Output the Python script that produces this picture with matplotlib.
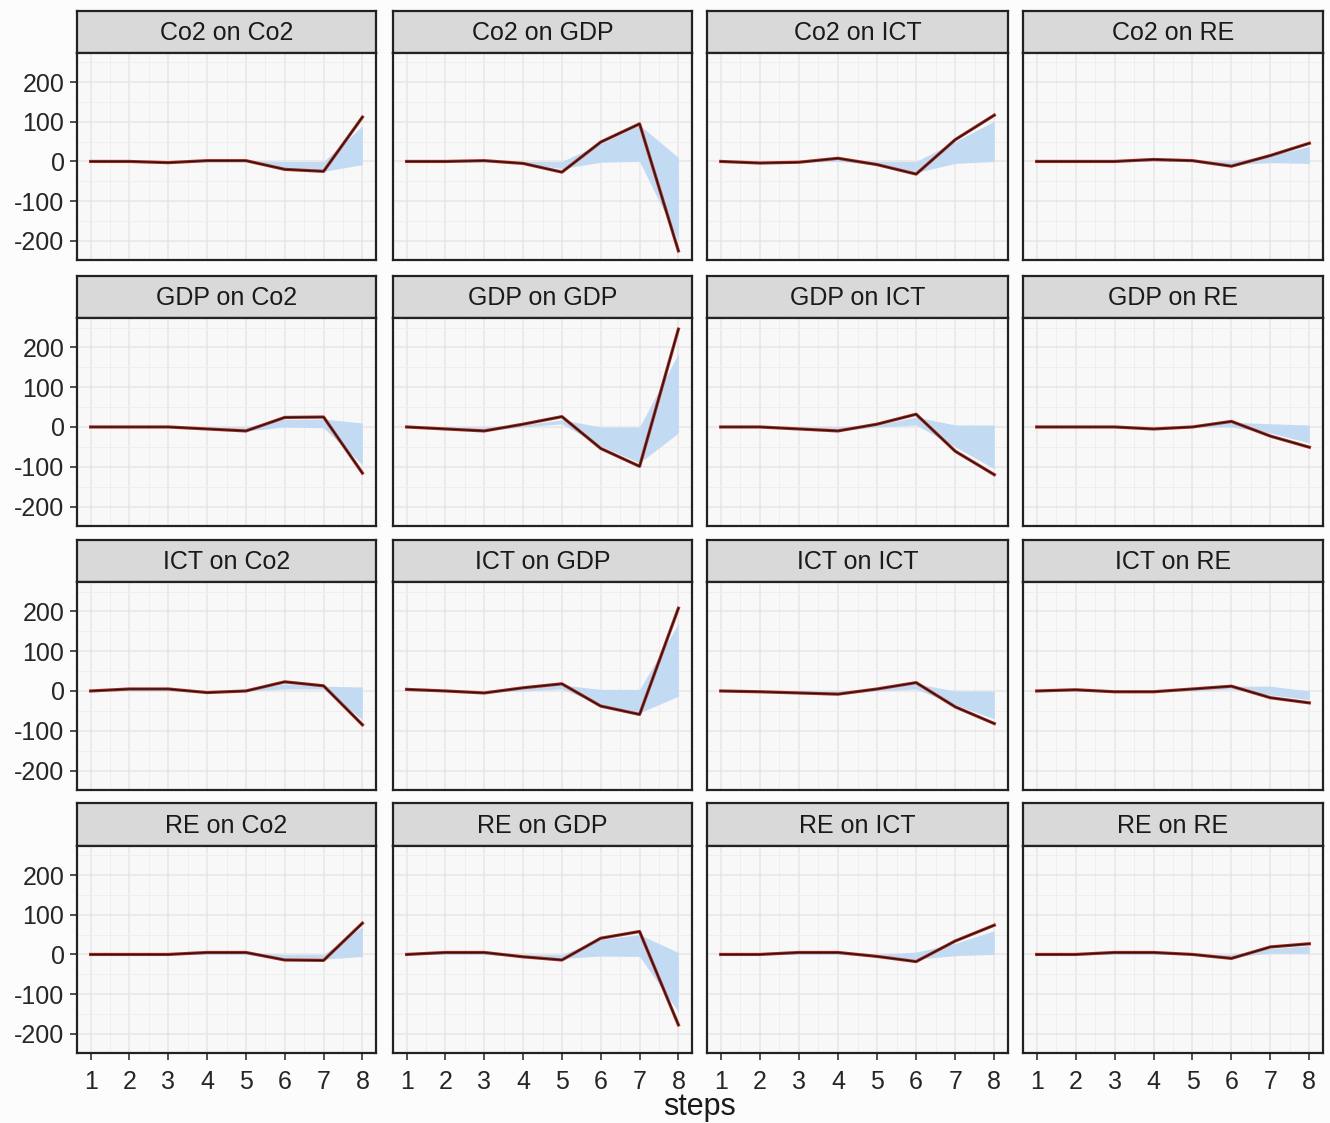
import matplotlib
matplotlib.use("Agg")
import matplotlib.pyplot as plt
from matplotlib.ticker import FixedLocator

plt.rcParams['font.family'] = ['Liberation Sans', 'DejaVu Sans']

steps = [1, 2, 3, 4, 5, 6, 7, 8]
variables = ["Co2", "GDP", "ICT", "RE"]
y_ticks = [-200, -100, 0, 100, 200]
y_tick_labels = ["-200", "-100", "0", "100", "200"]

# Impulse responses: one row per response variable (Co2, GDP, ICT, RE)
irf_co2 = [
    [0, 0, -3, 2, 2, -20, -25, 112],
    [0, 0, 2, -5, -27, 49, 95, -226],
    [0, -4, -2, 8, -8, -32, 55, 117],
    [0, 0, 0, 5, 2, -12, 15, 46],
]
irf_gdp = [
    [0, 0, 0, -5, -10, 24, 25, -116],
    [0, -5, -10, 7, 26, -54, -99, 246],
    [0, 0, -5, -10, 7, 32, -61, -120],
    [0, 0, 0, -5, 0, 14, -23, -51],
]
irf_ict = [
    [0, 5, 5, -4, 0, 23, 13, -85],
    [4, 0, -5, 8, 18, -38, -59, 208],
    [0, -2, -5, -8, 5, 21, -40, -82],
    [0, 3, -2, -2, 5, 12, -17, -30],
]
irf_re = [
    [0, 0, 0, 5, 5, -14, -15, 79],
    [0, 5, 5, -6, -14, 41, 58, -178],
    [0, 0, 5, 5, -5, -18, 34, 74],
    [0, 0, 5, 5, 0, -10, 19, 27],
]

# Lower and upper bounds of the confidence band
lo_co2 = [
    [0, 0, -3, 0, 0, -20, -25, -8],
    [0, 0, 0, -5, -18, -2, 0, -200],
    [0, -3, -2, 0, -8, -28, -5, 0],
    [0, 0, 0, 0, 0, -8, -3, -5],
]
hi_co2 = [
    [0, 0, 0, 2, 2, 0, 0, 90],
    [0, 0, 2, 0, 0, 45, 92, 10],
    [0, 0, 0, 6, 0, 0, 50, 102],
    [0, 0, 0, 5, 2, 0, 15, 38],
]
lo_gdp = [
    [0, 0, 0, -5, -10, 0, -2, -95],
    [0, -3, -10, 0, 8, -48, -90, -15],
    [0, 0, -3, -10, 0, 5, -50, -105],
    [0, 0, 0, -5, 0, 0, -15, -40],
]
hi_gdp = [
    [0, 0, 0, 0, 0, 20, 20, 10],
    [0, 0, 0, 5, 18, 0, 0, 185],
    [0, 0, 0, 0, 5, 25, 5, 5],
    [0, 0, 0, 0, 2, 12, 8, 5],
]
lo_ict = [
    [0, 0, 0, -3, 0, 5, 5, -72],
    [0, 0, -3, 0, 5, -34, -55, -13],
    [0, -2, -5, -8, 0, 5, -35, -70],
    [0, 0, -2, -2, 0, 5, -10, -22],
]
hi_ict = [
    [0, 3, 2, 0, 2, 18, 12, 10],
    [4, 0, 0, 8, 15, 4, 4, 170],
    [0, 0, 0, 0, 5, 18, 0, 0],
    [0, 3, 0, 0, 5, 12, 12, 0],
]
lo_re = [
    [0, 0, 0, 0, 0, -10, -12, -5],
    [0, 0, 0, -5, -10, -4, -5, -145],
    [0, 0, 0, 0, -5, -12, -3, 0],
    [0, 0, 0, 0, 0, -6, 3, 3],
]
hi_re = [
    [0, 0, 0, 4, 4, 0, 0, 70],
    [0, 5, 5, 0, 0, 38, 50, 5],
    [0, 0, 4, 4, 0, 6, 28, 60],
    [0, 0, 4, 4, 0, 0, 15, 22],
]

responses = [irf_co2, irf_gdp, irf_ict, irf_re]
lowers = [lo_co2, lo_gdp, lo_ict, lo_re]
uppers = [hi_co2, hi_gdp, hi_ict, hi_re]

W, H = 1330, 1123
fig = plt.figure(figsize=(W / 100, H / 100), dpi=100, facecolor="#fcfcfc")

col_edges = [(77, 376), (393, 692), (707, 1008), (1023, 1323)]
row_edges = [(11, 53, 260), (276, 318, 526), (540, 582, 790), (803, 846, 1053)]

def px_rect(x0, x1, y0, y1):
    return [x0 / W, 1 - y1 / H, (x1 - x0) / W, (y1 - y0) / H]

text_col = "#262626"

for r, (st, pt, pb) in enumerate(row_edges):
    for c, (x0, x1) in enumerate(col_edges):
        # facet strip
        sax = fig.add_axes(px_rect(x0, x1, st, pt))
        sax.set_facecolor("#d9d9d9")
        sax.set_xticks([]); sax.set_yticks([])
        for s in sax.spines.values():
            s.set_linewidth(1.6); s.set_color("#222222")
        sax.text(0.5, 0.47, f"{variables[r]} on {variables[c]}", ha="center",
                 va="center", fontsize=18, color="#1a1a1a", transform=sax.transAxes)

        ax = fig.add_axes(px_rect(x0, x1, pt, pb))
        ax.set_facecolor("#f8f8f8")
        ax.set_xlim(0.65, 8.35)
        ax.set_ylim(-249, 274)
        ax.set_xticks(steps)
        ax.xaxis.set_minor_locator(FixedLocator([s + 0.5 for s in steps[:-1]]))
        ax.set_yticks(y_ticks)
        ax.yaxis.set_minor_locator(FixedLocator([-150, -50, 50, 150, 250]))
        ax.grid(which="major", color="#e6e6e6", lw=1.1)
        ax.grid(which="minor", color="#eeeeee", lw=0.7)
        ax.set_axisbelow(True)
        ax.tick_params(which="minor", length=0)
        ax.tick_params(which="major", length=5, width=1.2, color="#333333",
                       labelsize=18, labelcolor=text_col, pad=4)
        if c == 0:
            ax.set_yticklabels(y_tick_labels)
        else:
            ax.tick_params(axis="y", left=False, labelleft=False)
        if r == 3:
            ax.set_xticklabels([str(s) for s in steps])
            ax.tick_params(axis="x", pad=7)
        else:
            ax.tick_params(axis="x", bottom=False, labelbottom=False)
        for s in ax.spines.values():
            s.set_linewidth(1.6); s.set_color("#222222")

        ax.fill_between(steps, lowers[r][c], uppers[r][c], color="#c2dbf3",
                        lw=0, zorder=2)
        ax.plot(steps, responses[r][c], color="#b8261a", lw=2.3, zorder=3)
        ax.plot(steps, responses[r][c], color="#1a1a1a", lw=1.0, zorder=4)

fig.text(700 / W, 1 - 1107 / H, "steps", ha="center", va="center",
         fontsize=22, color="#1a1a1a")

fig.savefig("out.png", dpi=100, facecolor=fig.get_facecolor())
